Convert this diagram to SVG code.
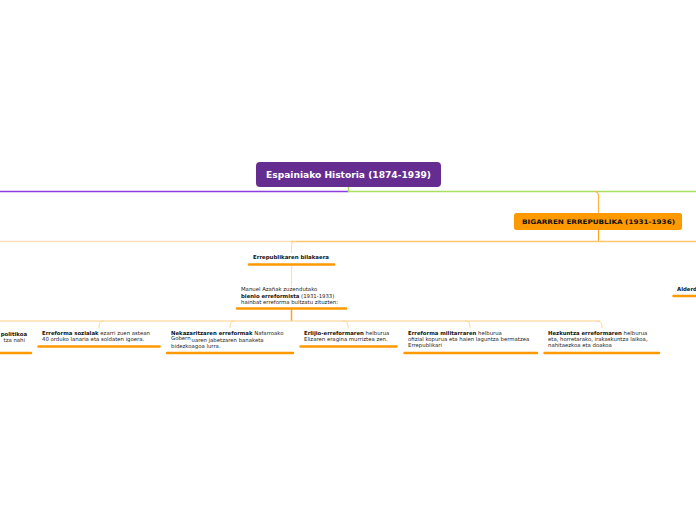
<svg xmlns="http://www.w3.org/2000/svg" width="696" height="520" viewBox="0 0 696 520">
<style>
.t{font-family:"DejaVu Sans","Liberation Sans",sans-serif;font-size:5.35px;fill:#222}
.b{font-weight:bold;fill:#111}
.ul{stroke:#ff9900;stroke-width:2.5;stroke-linecap:round;fill:none}
.c{fill:none}
</style>
<rect width="696" height="520" fill="#fff"/>
<g id="connectors">
<path class="c" d="M0,191.5 H348.5" style="stroke:#8a3ee0;stroke-width:1.5"/>
<path class="c" d="M348.5,187 V191.5 H696" style="stroke:#a8e060;stroke-width:1.5"/>
<path class="c" d="M594,191.5 Q598.5,191.5 598.5,196 V213" style="stroke:#ffb347;stroke-width:1.2"/>
<path class="c" d="M598.5,230 V241.5" style="stroke:#ffa31a;stroke-width:1.2"/>
<path class="c" d="M0,241.5 H291" style="stroke:#fde0bb;stroke-width:1.5"/>
<path class="c" d="M291,241.5 H696" style="stroke:#ffc46e;stroke-width:1.5"/>
<path class="c" d="M296,241.5 Q291.5,241.5 291.5,246 V253" style="stroke:#fde0bb;stroke-width:1.2"/>
<path class="c" d="M291.5,265 V287" style="stroke:#fde0bb;stroke-width:1.2"/>
<path class="c" d="M291.5,309 V321" style="stroke:#ffa31a;stroke-width:1.5"/>
<path class="c" d="M0,321 H600" style="stroke:#ffcf88;stroke-width:1.2"/>
<path class="c" d="M104,321 Q99,321 99,326 V328" style="stroke:#ffd596;stroke-width:1"/>
<path class="c" d="M235,321 Q230,321 230,326 V328" style="stroke:#ffd596;stroke-width:1"/>
<path class="c" d="M343,321 Q348,321 348,326 V328" style="stroke:#ffd596;stroke-width:1"/>
<path class="c" d="M465,321 Q470,321 470,326 V328" style="stroke:#ffd596;stroke-width:1"/>
<path class="c" d="M597,321 Q602,321 602,326 V328" style="stroke:#ffd596;stroke-width:1"/>
</g>
<g id="root">
<rect x="256" y="162" width="185" height="25" rx="4" fill="#662d91"/>
<text x="348.5" y="178" text-anchor="middle" font-family="DejaVu Sans,Liberation Sans,sans-serif" font-size="8" font-weight="bold" fill="#fff" textLength="165" lengthAdjust="spacingAndGlyphs">Espainiako Historia (1874-1939)</text>
</g>
<g id="bigarren">
<rect x="514" y="213" width="168" height="17" rx="2.5" fill="#ff9900"/>
<text x="598.5" y="224.2" text-anchor="middle" font-family="DejaVu Sans,Liberation Sans,sans-serif" font-size="6.3" font-weight="bold" fill="#111" textLength="153" lengthAdjust="spacingAndGlyphs">BIGARREN ERREPUBLIKA (1931-1936)</text>
</g>
<g id="bilakaera">
<text class="t b" x="253" y="259" textLength="76" lengthAdjust="spacingAndGlyphs">Errepublikaren bilakaera</text>
<line class="ul" x1="249" y1="264.5" x2="334" y2="264.5"/>
</g>
<g id="bienio">
<text class="t" x="241" y="291">Manuel Azañak zuzendutako</text>
<text class="t" x="241" y="297.5"><tspan class="b">bienio erreformista</tspan> (1931-1933)</text>
<text class="t" x="241" y="304">hainbat erreforma bultzatu zituzten:</text>
<line class="ul" x1="237" y1="308.5" x2="346" y2="308.5"/>
</g>
<g id="politikoa">
<text class="t b" x="27" y="335.5" text-anchor="end">politikoa</text>
<text class="t" x="25" y="341.5" text-anchor="end">tza nahi</text>
<line class="ul" x1="-5" y1="353" x2="31" y2="353"/>
</g>
<g id="sozialak">
<text class="t" x="42" y="335"><tspan class="b">Erreforma sozialak</tspan> ezarri zuen astean</text>
<text class="t" x="42" y="341">40 orduko lanaria eta soldaten igoera.</text>
<line class="ul" x1="38.5" y1="346.5" x2="159.5" y2="346.5"/>
</g>
<g id="nekazaritza">
<text class="t" x="171" y="335"><tspan class="b">Nekazaritzaren erreformak</tspan> Nafarroako</text>
<text class="t" x="171" y="339.5">Gobern</text>
<text class="t" x="191.5" y="342">uaren jabetzaren banaketa</text>
<text class="t" x="171" y="348">bidezkoagoa lurra.</text>
<line class="ul" x1="167" y1="353" x2="293" y2="353"/>
</g>
<g id="erlijio">
<text class="t" x="304" y="335"><tspan class="b">Erlijio-erreformaren</tspan> helburua</text>
<text class="t" x="304" y="341">Elizaren eragina murriztea zen.</text>
<line class="ul" x1="300.5" y1="346.5" x2="396.5" y2="346.5"/>
</g>
<g id="militarra">
<text class="t" x="408" y="335"><tspan class="b">Erreforma militarraren</tspan> helburua</text>
<text class="t" x="408" y="341">ofizial kopurua eta haien laguntza bermatzea</text>
<text class="t" x="408" y="347">Errepublikari</text>
<line class="ul" x1="404.5" y1="353" x2="537" y2="353"/>
</g>
<g id="hezkuntza">
<text class="t" x="548" y="335"><tspan class="b">Hezkuntza erreformaren</tspan> helburua</text>
<text class="t" x="548" y="341">eta, horretarako, irakaskuntza laikoa,</text>
<text class="t" x="548" y="347">nahitaezkoa eta doakoa</text>
<line class="ul" x1="544.5" y1="353" x2="659" y2="353"/>
</g>
<g id="alderdi">
<text class="t b" x="677" y="290.5">Alderdi</text>
<line class="ul" x1="673.5" y1="296" x2="700" y2="296"/>
</g>
</svg>
